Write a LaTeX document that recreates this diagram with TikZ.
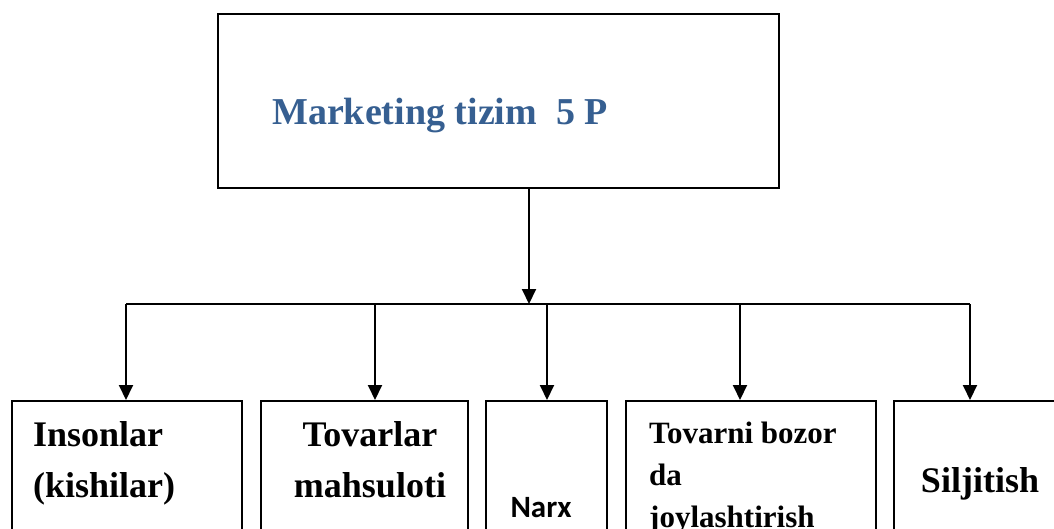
\documentclass[tikz,border=0pt]{standalone}
\usepackage{fontspec}
\setmainfont{Liberation Serif}
\newfontfamily\calibfont{Carlito}
\usetikzlibrary{arrows.meta}
\definecolor{titleblue}{HTML}{365F91}
\begin{document}
\begin{tikzpicture}[x=1pt,y=-1pt,
  box/.style={draw=black, line width=1.8pt, rectangle, inner sep=0pt, anchor=north west, minimum height=200pt},
  arr/.style={line width=2pt, -{Triangle[length=15pt,width=14pt]}},
  bus/.style={line width=1.6pt},
  lbl/.style={font=\fontsize{36}{40}\selectfont\bfseries, inner sep=0pt},
  smalllbl/.style={font=\fontsize{31}{34}\selectfont\bfseries, inner sep=0pt, anchor=base west},
]
\useasboundingbox (0,0) rectangle (1054,529);
\clip (0,0) rectangle (1054,529);
% top box
\node[box, minimum width=561pt, minimum height=174pt] (top) at (217,13) {};
\node[anchor=base west, inner sep=0pt, text=titleblue, font=\fontsize{38}{42}\selectfont\bfseries] (title) at (272,125) {Marketing tizim\ \ 5 P};
% bottom boxes
\node[box, minimum width=230pt] (b1) at (11,400) {};
\node[box, minimum width=207pt] (b2) at (260,400) {};
\node[box, minimum width=121pt] (b3) at (485,400) {};
\node[box, minimum width=250pt] (b4) at (625,400) {};
\node[box, minimum width=220pt] (b5) at (893,400) {};
% labels
\node[lbl, anchor=base west] (t1a) at (33,446) {Insonlar};
\node[lbl, anchor=base west] (t1b) at (33,497) {(kishilar)};
\node[lbl, anchor=base] (t2a) at (370,446) {Tovarlar};
\node[lbl, anchor=base] (t2b) at (370,497) {mahsuloti};
\node[anchor=base, inner sep=0pt, font=\calibfont\fontsize{31}{34}\selectfont\bfseries] (t3) at (541,517) {Narx};
\node[smalllbl] (t4a) at (649,443) {Tovarni bozor};
\node[smalllbl] (t4b) at (649,485) {da};
\node[smalllbl] (t4c) at (649,527) {joylashtirish};
\node[lbl, anchor=base] (t5) at (980,492) {Siljitish};
% connectors
\coordinate (busc) at (529,304);
\coordinate (h1) at (126,304);
\coordinate (h2) at (375,304);
\coordinate (h3) at (547,304);
\coordinate (h4) at (740,304);
\coordinate (h5) at (970,304);
\draw[arr] (top.south -| busc) -- (busc);
\draw[bus] (h1) -- (h5);
\draw[arr] (h1) -- (h1 |- b1.north);
\draw[arr] (h2) -- (h2 |- b2.north);
\draw[arr] (h3) -- (h3 |- b3.north);
\draw[arr] (h4) -- (h4 |- b4.north);
\draw[arr] (h5) -- (h5 |- b5.north);
\end{tikzpicture}
\end{document}
